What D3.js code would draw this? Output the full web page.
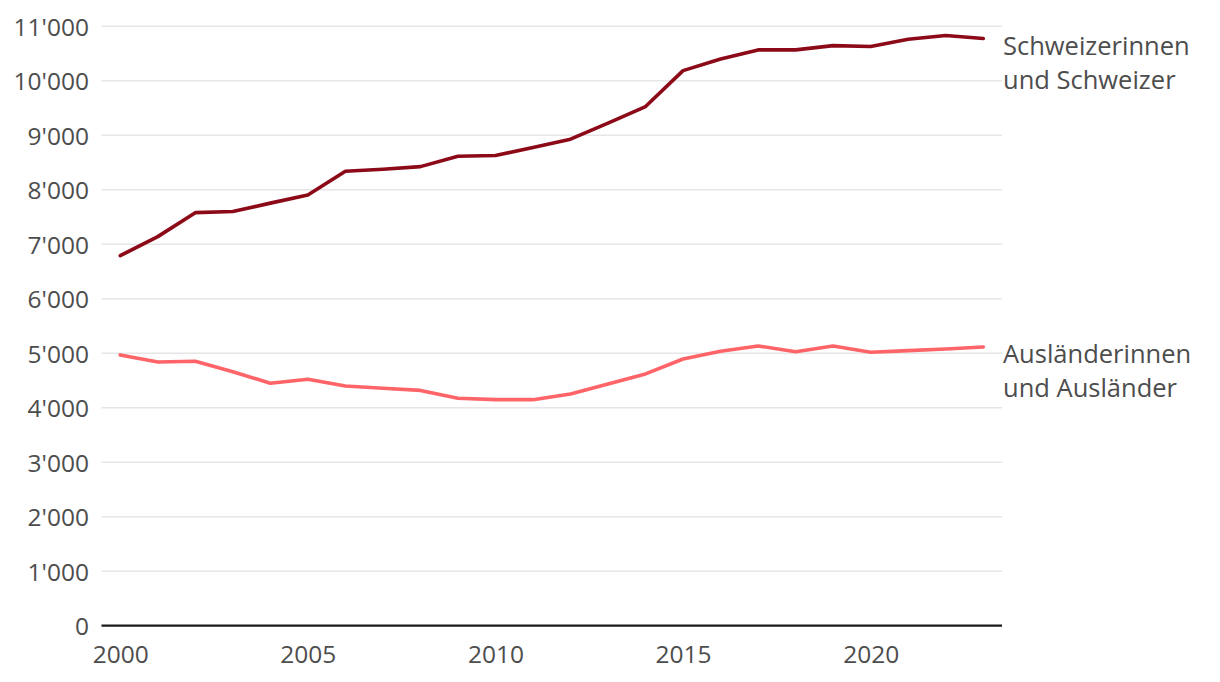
<!DOCTYPE html>
<html>
<head>
<meta charset="utf-8">
<script src="https://cdn.jsdelivr.net/npm/d3@7"></script>
<style>
  html, body { margin: 0; padding: 0; background: #fff; }
  svg { display: block; font-family: "Open Sans", "Noto Sans", sans-serif; }
</style>
</head>
<body>
<svg id="chart" width="1220" height="682"></svg>
<script>
const years = [2000,2001,2002,2003,2004,2005,2006,2007,2008,2009,2010,2011,2012,2013,2014,2015,2016,2017,2018,2019,2020,2021,2022,2023];
const schweizer = [6790,7140,7580,7600,7755,7905,8340,8378,8425,8615,8628,8775,8928,9222,9527,10187,10400,10567,10567,10646,10628,10763,10830,10775];
const auslaender = [4969,4838,4853,4662,4449,4523,4400,4357,4318,4174,4148,4148,4253,4436,4620,4895,5035,5134,5029,5134,5018,5048,5079,5116];
const seriesNames = [["Schweizerinnen", "und Schweizer"], ["Ausländerinnen", "und Ausländer"]];
const seriesColors = ["#8c0a18", "#ff6468"];
const yTicks = [0,1000,2000,3000,4000,5000,6000,7000,8000,9000,10000,11000];
const xTicks = [2000,2005,2010,2015,2020];

const svg = d3.select("#chart");
const x = d3.scaleLinear().domain([1999.5, 2023.5]).range([101.5, 1002]);
const y = d3.scaleLinear().domain([0, 11000]).range([625.7, 26.3]);

const fmt = v => d3.format(",")(v).replace(/,/g, "'");

// gridlines
svg.append("g").selectAll("line")
  .data(yTicks.filter(d => d > 0))
  .join("line")
  .attr("x1", x.range()[0]).attr("x2", x.range()[1])
  .attr("y1", d => y(d)).attr("y2", d => y(d))
  .attr("stroke", "#e6e6e6").attr("stroke-width", 1.5);

// y axis labels
const yAxis = d3.axisLeft(y).tickValues(yTicks).tickFormat(fmt).tickSize(0).tickPadding(0);
const gy = svg.append("g").attr("transform", "translate(89,0)").call(yAxis);
gy.select(".domain").remove();
gy.selectAll("text").attr("font-size", 24.5).attr("fill", "#4d4d4d")
  .attr("font-family", "'Open Sans', sans-serif").attr("dy", "0.36em");

// x axis
const xAxis = d3.axisBottom(x).tickValues(xTicks).tickFormat(d3.format("d")).tickSize(0).tickPadding(0);
const gx = svg.append("g").attr("transform", `translate(0,${y(0)})`).call(xAxis);
gx.select(".domain").attr("stroke", "#1a1a1a").attr("stroke-width", 2.2)
  .attr("d", `M${x.range()[0]},0H${x.range()[1]}`);
gx.selectAll("text").attr("font-size", 24.5).attr("fill", "#4d4d4d")
  .attr("font-family", "'Open Sans', sans-serif").attr("y", 37).attr("dy", 0);

// lines
const line = d3.line().x((d, i) => x(years[i])).y(d => y(d));
[schweizer, auslaender].forEach((s, k) => {
  svg.append("path").datum(s)
    .attr("d", line)
    .attr("fill", "none")
    .attr("stroke", seriesColors[k])
    .attr("stroke-width", 3.6)
    .attr("stroke-linejoin", "round")
    .attr("stroke-linecap", "round");
});

// series labels
const labelOffsets = [16, 16];
[schweizer, auslaender].forEach((s, k) => {
  const t = svg.append("text")
    .attr("x", 1003)
    .attr("y", y(s[s.length - 1]) + labelOffsets[k])
    .attr("font-size", 25.5).attr("fill", "#4d4d4d")
    .attr("font-family", "'Open Sans', sans-serif");
  seriesNames[k].forEach((ln, j) => {
    t.append("tspan").attr("x", 1003).attr("dy", j === 0 ? 0 : 34).text(ln);
  });
});
</script>
</body>
</html>
